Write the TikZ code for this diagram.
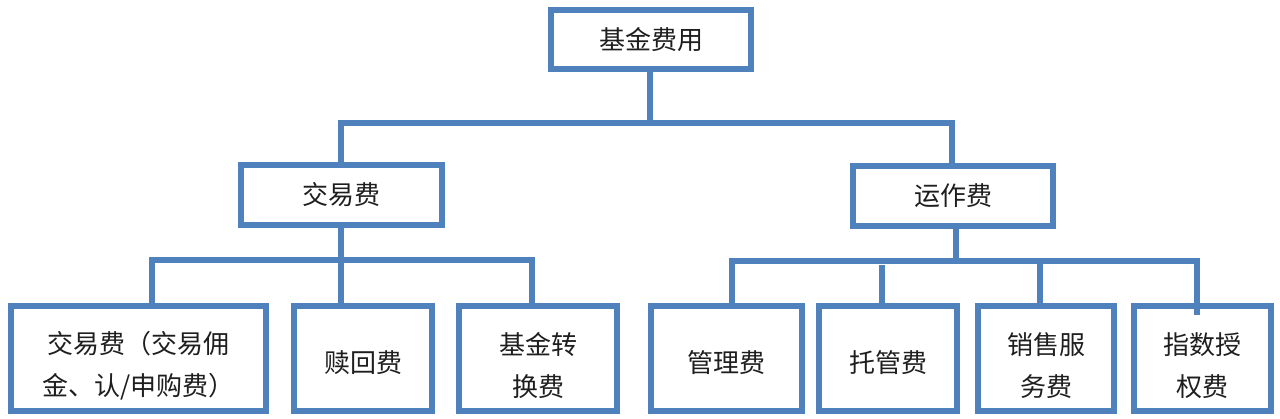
\documentclass[tikz,border=0pt]{standalone}
\usepackage{fontspec}
\newfontfamily\cjk{Noto Sans CJK SC}
\definecolor{boxblue}{RGB}{79,129,189}
\definecolor{txt}{RGB}{30,30,30}
\newcommand\lowA{\rule{0pt}{37pt}}
\newcommand\lowB{\rule{0pt}{31pt}}
\begin{document}
\begin{tikzpicture}[x=1pt,y=-1pt,
  box/.style={draw=boxblue,line width=5.5pt,inner sep=0pt,outer sep=0pt,
    font=\cjk\fontsize{26}{42}\selectfont,text=txt,align=center},
  link/.style={draw=boxblue,line width=5.5pt,line cap=butt,line join=miter}]
\useasboundingbox (0,0) rectangle (1280,418);
% boxes (center, width, height measured on the line centres)
\node[box,minimum width=200pt,minimum height=59pt] (root) at (651,39.5) {基金费用};
\node[box,minimum width=201pt,minimum height=60pt] (trade) at (341.5,195) {交易费};
\node[box,minimum width=200pt,minimum height=60pt] (oper) at (953,196) {运作费};
\node[box,minimum width=255pt,minimum height=105pt] (b1) at (138.5,358.5) {\lowA 交易费（交易佣\\金、认/申购费）};
\node[box,minimum width=138pt,minimum height=105pt] (b2) at (363,358.5) {\lowB 赎回费};
\node[box,minimum width=158pt,minimum height=105pt] (b3) at (538,358.5) {\lowA 基金转\\换费};
\node[box,minimum width=151pt,minimum height=105pt] (b4) at (726.5,358.5) {\lowB 管理费};
\node[box,minimum width=138pt,minimum height=105pt] (b5) at (888,358.5) {\lowB 托管费};
\node[box,minimum width=136pt,minimum height=105pt] (b6) at (1046,358.5) {\lowA 销售服\\务费};
\node[box,minimum width=137pt,minimum height=105pt] (b7) at (1202.5,358.5) {\lowA 指数授\\权费};
% bus coordinates
\coordinate (busA) at (650,123);
\coordinate (busL) at (341,123);
\coordinate (busR) at (952,123);
\coordinate (tbus) at (341,260);
\coordinate (tbL) at (152,260);
\coordinate (tbR) at (532,260);
\coordinate (obus) at (956,261);
\coordinate (obL) at (732,261);
\coordinate (obR) at (1197,261);
\coordinate (ob2) at (882,265);
\coordinate (ob3) at (1040,261);
\coordinate (b7in) at (1197,315);
% top level
\draw[link] (root.south -| busA) -- (busA);
\draw[link] (trade.north -| busL) -- (busL) -- (busR) -- (oper.north -| busR);
% trade branch
\draw[link] (trade.south -| tbus) -- (tbus);
\draw[link] (b1.north -| tbL) -- (tbL) -- (tbR) -- (b3.north -| tbR);
\draw[link] (tbus) -- (b2.north -| tbus);
% operating branch
\draw[link] (oper.south -| obus) -- (obus);
\draw[link] (b4.north -| obL) -- (obL) -- (obR) -- (b7in);
\draw[link] (ob2) -- (b5.north -| ob2);
\draw[link] (ob3) -- (b6.north -| ob3);
\end{tikzpicture}
\end{document}
